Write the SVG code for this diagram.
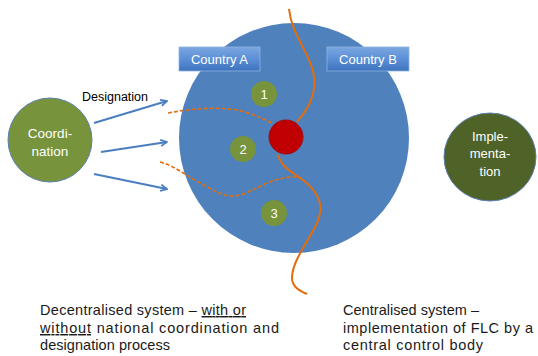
<svg xmlns="http://www.w3.org/2000/svg" width="538" height="356" viewBox="0 0 538 356">
<defs>
<linearGradient id="boxg" x1="0" y1="0" x2="0" y2="1">
<stop offset="0" stop-color="#7BA7E0"/>
<stop offset="0.5" stop-color="#5B8FD6"/>
<stop offset="1" stop-color="#3F73BF"/>
</linearGradient>
<marker id="arr" viewBox="0 0 10 10" refX="9" refY="5" markerWidth="4" markerHeight="4" orient="auto" markerUnits="strokeWidth">
<path d="M1,1 L9,5 L1,9" fill="none" stroke="#4A7EC0" stroke-width="2.2"/>
</marker>
</defs>
<style>
.lbl{font-family:"Liberation Sans",Arial,sans-serif;fill:#fff;text-anchor:middle}
.txt{font-family:"Liberation Sans",Arial,sans-serif;font-size:14.5px;fill:#1a1a1a}
.green{fill:#77933C}
.conn{fill:none;stroke:#4A7EC0;stroke-width:2}
.border{fill:none;stroke:#E46C0A;stroke-width:2}
.dash{fill:none;stroke:#E46C0A;stroke-width:1.6;stroke-dasharray:4 2}
</style>
<rect width="538" height="356" fill="#fff"/>
<g id="bigcircle"><circle cx="294" cy="138" r="115" fill="#4F81BD"/></g>
<g id="countryA"><rect x="179" y="47" width="81" height="24" fill="url(#boxg)" stroke="#8DB3E2" stroke-width="0.8"/><text class="lbl" x="219.5" y="64" font-size="13">Country A</text></g>
<g id="countryB"><rect x="327" y="47" width="82" height="24" fill="url(#boxg)" stroke="#8DB3E2" stroke-width="0.8"/><text class="lbl" x="368" y="64" font-size="13">Country B</text></g>
<g id="borders">
<path class="border" d="M289,9 C292,40 318,60 314,88 C312,105 302,115 297,122"/>
<path class="border" d="M278,155 C282,168 292,172 303,180 C318,192 326,205 316,225 C306,245 292,262 292,278 C292,287 300,291 307,294"/>
<path class="dash" d="M168,113 C195,108 225,106 245,112 C258,116 266,120 272,123"/>
<path class="dash" d="M160,162 C175,166 185,175 200,183 C215,191 225,199 240,195 C255,191 268,179 290,177 C295,177 298,177 300,178"/>
</g>
<g id="center"><circle cx="286" cy="137" r="17" fill="#C00000" stroke="#A00000" stroke-width="0.8"/></g>
<g id="n1"><circle class="green" cx="264" cy="94" r="13"/><text class="lbl" x="264" y="99" font-size="13">1</text></g>
<g id="n2"><circle class="green" cx="243" cy="149" r="13"/><text class="lbl" x="243" y="154" font-size="13">2</text></g>
<g id="n3"><circle class="green" cx="274" cy="213" r="13"/><text class="lbl" x="274" y="218" font-size="13">3</text></g>
<g id="coordination"><circle cx="50" cy="140" r="42" fill="#77933C" stroke="#5B7FB0" stroke-width="1"/><text class="lbl" x="50" y="138" font-size="13.5">Coordi-</text><text class="lbl" x="50" y="156" font-size="13.5">nation</text></g>
<g id="implementation"><ellipse cx="490" cy="157" rx="46" ry="44" fill="#4F6228" stroke="#5B7FB0" stroke-width="1"/><text class="lbl" x="490" y="141" font-size="13">Imple-</text><text class="lbl" x="490" y="158" font-size="13">menta-</text><text class="lbl" x="490" y="176" font-size="13">tion</text></g>
<g id="connectors">
<line class="conn" x1="94" y1="123" x2="167" y2="101" marker-end="url(#arr)"/>
<line class="conn" x1="101" y1="152" x2="167" y2="142" marker-end="url(#arr)"/>
<line class="conn" x1="94" y1="174" x2="167" y2="189" marker-end="url(#arr)"/>
<text x="115" y="101" font-family="Liberation Sans,Arial,sans-serif" font-size="12.5" fill="#000" text-anchor="middle">Designation</text>
</g>
<g id="captions">
<text class="txt" x="40" y="315" textLength="206" lengthAdjust="spacing">Decentralised system – <tspan text-decoration="underline">with or</tspan></text>
<text class="txt" x="40" y="333" textLength="239" lengthAdjust="spacing"><tspan text-decoration="underline">without</tspan> national coordination and</text>
<text class="txt" x="40" y="350" textLength="130" lengthAdjust="spacing">designation process</text>
<text class="txt" x="343" y="315" textLength="136" lengthAdjust="spacing">Centralised system –</text>
<text class="txt" x="343" y="333" textLength="190" lengthAdjust="spacing">implementation of FLC by a</text>
<text class="txt" x="343" y="350" textLength="140" lengthAdjust="spacing">central control body</text>
</g>
</svg>
